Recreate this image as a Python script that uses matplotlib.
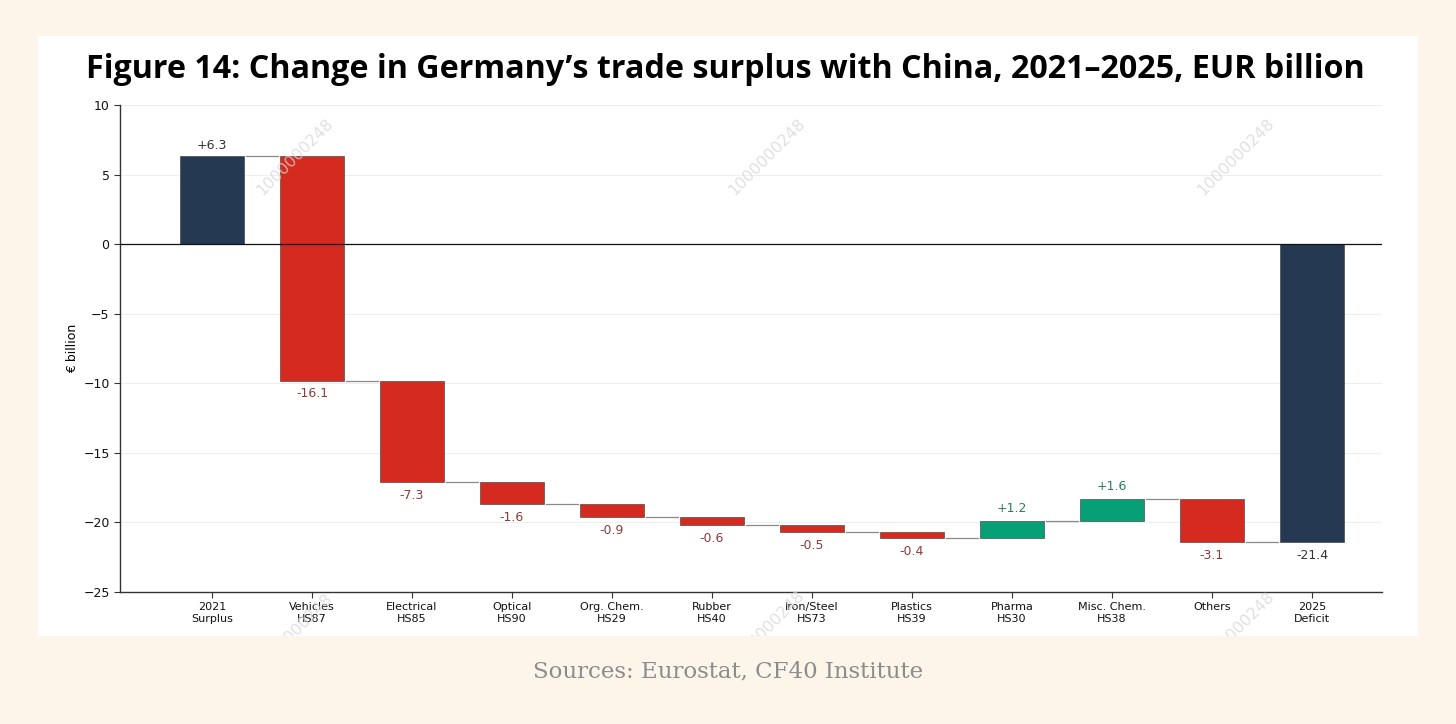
import matplotlib
matplotlib.use("Agg")
import matplotlib.pyplot as plt
from matplotlib.patches import Rectangle
import numpy as np

# ---- data ----
categories = ["2021\nSurplus", "Vehicles\nHS87", "Electrical\nHS85", "Optical\nHS90",
              "Org. Chem.\nHS29", "Rubber\nHS40", "Iron/Steel\nHS73", "Plastics\nHS39",
              "Pharma\nHS30", "Misc. Chem.\nHS38", "Others", "2025\nDeficit"]
start_value = 6.3
changes = [-16.1, -7.3, -1.6, -0.9, -0.6, -0.5, -0.4, 1.2, 1.6, -3.1]
end_value = -21.4
yticks = [-25, -20, -15, -10, -5, 0, 5, 10]
title = "Figure 14: Change in Germany\u2019s trade surplus with China, 2021\u20132025, EUR billion"
source = "Sources: Eurostat, CF40 Institute"
watermark = "1000000248"

# ---- style ----
BG = "#fdf5ea"
NAVY = "#253a52"
RED = "#d42a1f"
GREEN = "#06a074"
NEG_TXT = "#8e3b3b"
POS_TXT = "#2a7d5e"

W, H = 1456, 724
fig = plt.figure(figsize=(W / 100, H / 100), dpi=100)
fig.patch.set_facecolor(BG)

panel = Rectangle((38 / W, 1 - 636 / H), (1418 - 38) / W, (636 - 36) / H,
                  transform=fig.transFigure, facecolor="white", edgecolor="none", zorder=-10)
fig.patches.append(panel)

ax = fig.add_axes([120 / W, 1 - 592 / H, (1382 - 120) / W, (592 - 105) / H])
ax.set_facecolor("white")
ax.patch.set_alpha(0)

n = len(categories)
x = np.arange(n)
width = 0.64

# compute bottoms/heights
bottoms, heights, colors = [], [], []
bottoms.append(0); heights.append(start_value); colors.append(NAVY)
level = start_value
levels = [level]
for c in changes:
    if c < 0:
        bottoms.append(level + c); heights.append(-c); colors.append(RED)
    else:
        bottoms.append(level); heights.append(c); colors.append(GREEN)
    level = level + c
    levels.append(level)
bottoms.append(0); heights.append(end_value); colors.append(NAVY)

ax.bar(x, heights, width=width, bottom=bottoms, color=colors,
       edgecolor="#333333", linewidth=0.4, zorder=3)

# connectors
for i in range(n - 1):
    lv = levels[i] if i < len(levels) else end_value
    ax.plot([x[i] + width / 2 + 0.02, x[i + 1] - width / 2 - 0.02], [lv, lv],
            color="#8a8a8a", lw=0.9, zorder=2)

# labels
ax.text(x[0], start_value + 0.3, f"+{start_value:.1f}", ha="center", va="bottom",
        fontsize=9, color="#333333")
lv = start_value
for i, c in enumerate(changes, start=1):
    if c < 0:
        ax.text(x[i], lv + c - 0.5, f"{c:.1f}", ha="center", va="top",
                fontsize=9, color=NEG_TXT)
    else:
        ax.text(x[i], lv + c + 0.4, f"+{c:.1f}", ha="center", va="bottom",
                fontsize=9, color=POS_TXT)
    lv += c
ax.text(x[-1], end_value - 0.5, f"{end_value:.1f}", ha="center", va="top",
        fontsize=9, color="#333333")

ax.axhline(0, color="#111111", lw=0.9, zorder=4)
ax.set_ylim(-25, 10)
ax.set_xlim(-0.92, 11.70)
ax.set_yticks(yticks)
ax.set_yticklabels([("\u2212" + str(-t)) if t < 0 else str(t) for t in yticks], fontsize=9)
ax.set_xticks(x)
ax.set_xticklabels(categories, fontsize=8, linespacing=1.15)
ax.yaxis.grid(True, color="#eeeeee", lw=0.8, zorder=0)
ax.set_axisbelow(True)
for s in ["top", "right"]:
    ax.spines[s].set_visible(False)
for s in ["left", "bottom"]:
    ax.spines[s].set_color("#333333")
    ax.spines[s].set_linewidth(1.0)
ax.tick_params(axis="both", colors="#333333", length=4, width=0.8, labelcolor="#111111")
ax.set_ylabel("\u20ac billion", fontsize=9, labelpad=3)

fig.text(725 / W, 1 - 69 / H, title, ha="center", va="center", fontsize=23.2,
         fontweight="bold", family=["Open Sans", "DejaVu Sans"], color="black")
fig.text(728 / W, 1 - 671 / H, source, ha="center", va="center", fontsize=16.5,
         family=["DejaVu Serif"], color="#8c8c8c")

# watermarks
for (cx, cy) in [(295, 157), (767, 157), (1236, 157), (294, 632), (766, 629), (1236, 630)]:
    t = fig.text(cx / W, 1 - cy / H, watermark, ha="center", va="center", rotation=45,
                 fontsize=11.5, color="#d6d6d6", alpha=0.75, zorder=5)
    t.set_clip_path(panel)

fig.savefig("out.png", dpi=100, facecolor=BG)
